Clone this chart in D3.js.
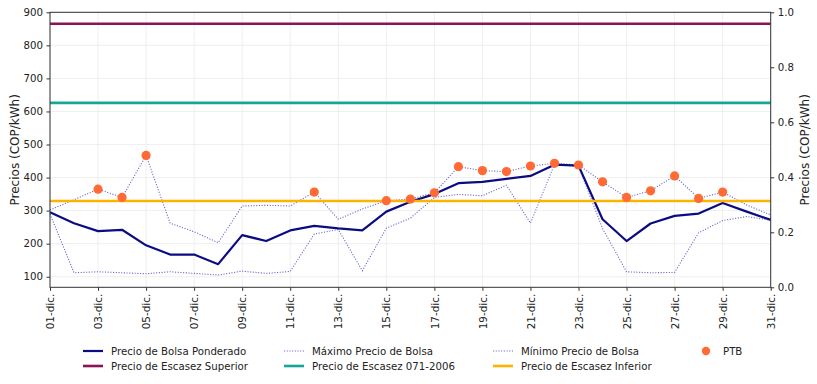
<!DOCTYPE html>
<html>
<head>
<meta charset="utf-8">
<script src="https://cdn.jsdelivr.net/npm/d3@7"></script>
<style>
  html, body { margin: 0; padding: 0; background: #fff; }
  svg { display: block; font-family: "DejaVu Sans", sans-serif; }
</style>
</head>
<body>
<svg id="chart" width="817" height="384"></svg>
<script>
// ---- Data ----
const days = d3.range(1, 32);
const tickDays = [1, 3, 5, 7, 9, 11, 13, 15, 17, 19, 21, 23, 25, 27, 29, 31];
const tickLabels = ["01-dic.", "03-dic.", "05-dic.", "07-dic.", "09-dic.", "11-dic.", "13-dic.", "15-dic.",
                    "17-dic.", "19-dic.", "21-dic.", "23-dic.", "25-dic.", "27-dic.", "29-dic.", "31-dic."];
const ponderado = [295, 262, 238, 242, 195, 167, 167, 138, 226, 208, 240, 254, 246, 240, 297, 327,
                   350, 383, 387, 396, 405, 439, 436, 274, 208, 261, 284, 291, 323, 297, 272];
const maximo = [302, 333, 365, 340, 467, 262, 236, 203, 314, 316, 314, 356, 274, 305, 330, 335,
                354, 433, 421, 418, 435, 443, 438, 387, 340, 360, 405, 337, 356, 317, 287];
const minimo = [290, 112, 115, 112, 109, 115, 110, 105, 117, 110, 116, 229, 243, 118, 247, 277,
                340, 349, 345, 377, 262, 440, 434, 246, 115, 112, 113, 233, 270, 282, 271];
const ptbDays = [3, 4, 5, 12, 15, 16, 17, 18, 19, 20, 21, 22, 23, 24, 25, 26, 27, 28, 29];
const ptbValues = [365, 340, 467, 356, 330, 335, 354, 433, 421, 418, 435, 443, 438, 387, 340, 360, 405, 337, 356];
const escasezSuperior = 865.5;
const escasez071 = 626;
const escasezInferior = 329;
const leftTicks = [100, 200, 300, 400, 500, 600, 700, 800, 900];
const rightTicks = [0, 0.2, 0.4, 0.6, 0.8, 1.0];

// ---- Layout ----
const L = 50, R = 770.7, T = 12.3, B = 287.3;
const svg = d3.select("#chart");

const x = d3.scaleLinear().domain([1, 31]).range([L, R]);
const y = d3.scaleLinear().domain([68, 900]).range([B, T]);
const y2 = d3.scaleLinear().domain([0, 1]).range([B, T]);

const C = {
  pond: "#0c0c82",
  dot: "#6464d0",
  sup: "#8c1357",
  e071: "#17a596",
  inf: "#ffb300",
  ptb: "#ff6a35",
  grid: "#ebebeb",
  axis: "#333333",
  text: "#222222"
};

// grid
const g = svg.append("g");
g.selectAll("line.gx").data(tickDays).join("line")
  .attr("x1", d => x(d)).attr("x2", d => x(d)).attr("y1", T).attr("y2", B)
  .attr("stroke", C.grid).attr("stroke-width", 0.8);
g.selectAll("line.gy").data(leftTicks).join("line")
  .attr("x1", L).attr("x2", R).attr("y1", d => y(d)).attr("y2", d => y(d))
  .attr("stroke", C.grid).attr("stroke-width", 0.8);

// axes
const xAxis = d3.axisBottom(x).tickValues(tickDays)
  .tickFormat((d, i) => tickLabels[i]).tickSize(3.5).tickPadding(3);
const gx = svg.append("g").attr("transform", `translate(0,${B})`).call(xAxis);
gx.select(".domain").remove();
gx.selectAll("line").attr("stroke", C.axis);
gx.selectAll("text")
  .attr("transform", "rotate(-90)")
  .attr("text-anchor", "end")
  .attr("x", -6.5).attr("y", 0).attr("dy", "0.35em")
  .attr("font-size", 10.4).attr("font-family", "DejaVu Sans").attr("fill", C.text);

const yAxis = d3.axisLeft(y).tickValues(leftTicks).tickSize(3.5).tickPadding(3.5);
const gy = svg.append("g").attr("transform", `translate(${L},0)`).call(yAxis);
gy.select(".domain").remove();
gy.selectAll("line").attr("stroke", C.axis);
gy.selectAll("text").attr("font-size", 10.2).attr("font-family", "DejaVu Sans").attr("fill", C.text);

const y2Axis = d3.axisRight(y2).tickValues(rightTicks).tickFormat(d3.format(".1f")).tickSize(3.5).tickPadding(3.5);
const gy2 = svg.append("g").attr("transform", `translate(${R},0)`).call(y2Axis);
gy2.select(".domain").remove();
gy2.selectAll("line").attr("stroke", C.axis);
gy2.selectAll("text").attr("font-size", 10.2).attr("font-family", "DejaVu Sans").attr("fill", C.text);

// axis titles
svg.append("text").attr("transform", `translate(19,${(T + B) / 2}) rotate(-90)`)
  .attr("text-anchor", "middle").attr("font-size", 12).attr("fill", C.text)
  .text("Precios (COP/kWh)");
svg.append("text").attr("transform", `translate(809,${(T + B) / 2}) rotate(-90)`)
  .attr("text-anchor", "middle").attr("font-size", 12).attr("fill", C.text)
  .text("Precios (COP/kWh)");

// data layer
const plot = svg.append("g");
const line = d3.line().x((d, i) => x(days[i])).y(d => y(d));

function hline(v, color) {
  plot.append("line").attr("x1", L).attr("x2", R).attr("y1", y(v)).attr("y2", y(v))
    .attr("stroke", color).attr("stroke-width", 2.6);
}

plot.append("path").datum(maximo).attr("d", line).attr("fill", "none")
  .attr("stroke", C.dot).attr("stroke-width", 1.1).attr("stroke-dasharray", "1.1,1.6");
plot.append("path").datum(minimo).attr("d", line).attr("fill", "none")
  .attr("stroke", C.dot).attr("stroke-width", 1.1).attr("stroke-dasharray", "1.1,1.6");
plot.append("path").datum(ponderado).attr("d", line).attr("fill", "none")
  .attr("stroke", C.pond).attr("stroke-width", 2.2).attr("stroke-linejoin", "round");
hline(escasezSuperior, C.sup);
hline(escasez071, C.e071);
hline(escasezInferior, C.inf);

plot.selectAll("circle.ptb").data(ptbValues).join("circle")
  .attr("cx", (d, i) => x(ptbDays[i])).attr("cy", d => y(d)).attr("r", 4.6)
  .attr("fill", C.ptb);

// frame
svg.append("rect").attr("x", L).attr("y", T).attr("width", R - L).attr("height", B - T)
  .attr("fill", "none").attr("stroke", C.axis).attr("stroke-width", 1);

// legend
const legendItems = [
  { label: "Precio de Bolsa Ponderado", type: "line", color: C.pond, w: 2.2, col: 0, row: 0 },
  { label: "Precio de Escasez Superior", type: "line", color: C.sup, w: 2.6, col: 0, row: 1 },
  { label: "Máximo Precio de Bolsa", type: "dot", color: C.dot, w: 1.1, col: 1, row: 0 },
  { label: "Precio de Escasez 071-2006", type: "line", color: C.e071, w: 2.6, col: 1, row: 1 },
  { label: "Mínimo Precio de Bolsa", type: "dot", color: C.dot, w: 1.1, col: 2, row: 0 },
  { label: "Precio de Escasez Inferior", type: "line", color: C.inf, w: 2.6, col: 2, row: 1 },
  { label: "PTB", type: "marker", color: C.ptb, col: 3, row: 0 }
];
const colX = [83, 284, 493, 695];
const rowY = [351, 366];
const lg = svg.append("g");
legendItems.forEach(it => {
  const x0 = colX[it.col], yy = rowY[it.row];
  if (it.type === "marker") {
    lg.append("circle").attr("cx", x0 + 11).attr("cy", yy).attr("r", 4.2).attr("fill", it.color);
  } else {
    const ln = lg.append("line").attr("x1", x0).attr("x2", x0 + 20).attr("y1", yy).attr("y2", yy)
      .attr("stroke", it.color).attr("stroke-width", it.w);
    if (it.type === "dot") ln.attr("stroke-dasharray", "1.1,1.6");
  }
  lg.append("text").attr("x", x0 + 28).attr("y", yy).attr("dy", "0.35em")
    .attr("font-size", 10.2).attr("fill", C.text).text(it.label);
});
</script>
</body>
</html>
